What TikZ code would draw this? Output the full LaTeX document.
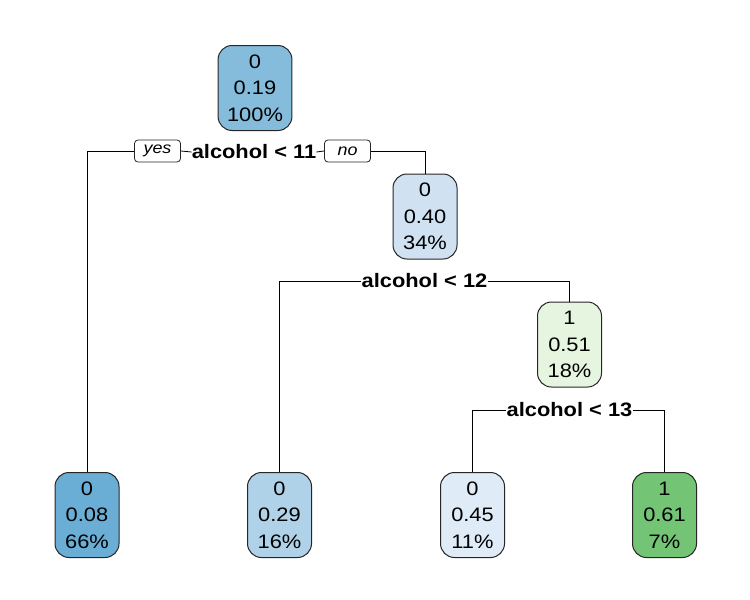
\documentclass[tikz,border=0pt]{standalone}
\usepackage{fontspec}
\setmainfont{Liberation Sans}[FakeStretch=1.12]
\usetikzlibrary{positioning}
\definecolor{cRoot}{HTML}{85BCDC}
\definecolor{cA}{HTML}{6AAED6}
\definecolor{cB}{HTML}{B0D2E8}
\definecolor{cC}{HTML}{D0E1F2}
\definecolor{cD}{HTML}{DFEBF7}
\definecolor{cE}{HTML}{E5F5E0}
\definecolor{cF}{HTML}{74C476}
\tikzset{
  treenode/.style={draw=black!85, line width=1pt, rounded corners=14pt,
    minimum width=64pt, minimum height=85pt, inner xsep=9pt, align=center,
    font=\fontsize{19.5}{26.5}\selectfont},
  split/.style={font=\fontsize{19.5}{22}\selectfont\bfseries, inner sep=0pt},
  yesno/.style={draw=black!85, line width=0.8pt, rounded corners=3.5pt,
    minimum width=46pt, minimum height=22pt, inner sep=2pt,
    font=\fontsize{16}{18}\selectfont\itshape},
  edge/.style={line width=0.8pt, black}
}
\begin{document}
\begin{tikzpicture}[x=1pt,y=-1pt]
\useasboundingbox (0,0) rectangle (750,600);
% inner nodes
\node[treenode, fill=cRoot] (n1) at (255,88) {0\\0.19\\100\%};
\node[treenode, fill=cC] (n3) at (425,216.5) {0\\0.40\\34\%};
\node[treenode, fill=cE] (n7) at (569.5,344.5) {1\\0.51\\18\%};
% leaves
\node[treenode, fill=cA] (n2) at (87,515) {0\\0.08\\66\%};
\node[treenode, fill=cB] (n6) at (279.5,515) {0\\0.29\\16\%};
\node[treenode, fill=cD] (n14) at (472.5,515) {0\\0.45\\11\%};
\node[treenode, fill=cF] (n15) at (664.5,515) {1\\0.61\\7\%};
% split labels
\node[split] (s1) at (254,152) {alcohol < 11};
\node[split] (s3) at (424.5,281) {alcohol < 12};
\node[split] (s7) at (569.5,410) {alcohol < 13};
\node[yesno] (yes) at (157.5,151) {yes};
\node[yesno] (no) at (347.5,151) {no};
% branches
\draw[edge] (s1.west) -- (yes.east);
\draw[edge] (s1.east) -- (no.west);
\draw[edge] (yes.west) -| (n2.north);
\draw[edge] (no.east) -| (n3.north);
\draw[edge] (s3.west) -| (n6.north);
\draw[edge] (s3.east) -| (n7.north);
\draw[edge] (s7.west) -| (n14.north);
\draw[edge] (s7.east) -| (n15.north);
\end{tikzpicture}
\end{document}
